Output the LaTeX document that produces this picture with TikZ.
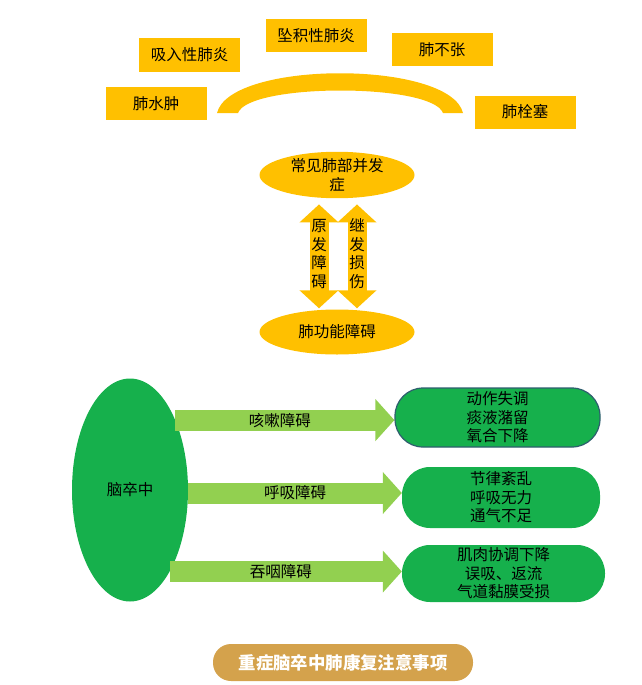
\documentclass[tikz,border=0pt]{standalone}
\usepackage{fontspec}
\setmainfont{Noto Sans CJK SC}
\usepackage{tikz}
\usetikzlibrary{arrows.meta,shapes,positioning,calc}

\definecolor{gold}{HTML}{FFC000}
\definecolor{leaf}{HTML}{16B04C}
\definecolor{lime}{HTML}{92D050}
\definecolor{tan}{HTML}{D4A24C}
\definecolor{slate}{HTML}{2E5E6E}

\begin{document}
\begin{tikzpicture}[x=1pt, y=-1pt,
    txt/.style={font=\fontsize{15.5}{18.5}\selectfont, text=black},
    goldbox/.style={txt, fill=gold, minimum width=101pt, minimum height=33pt, inner sep=0pt},
    goldoval/.style={txt, ellipse, fill=gold, minimum width=155pt, minimum height=45pt, inner sep=0pt, align=center},
    dblarrow/.style={draw=gold, line width=19pt,
        {Triangle[width=38pt,length=18pt]}-{Triangle[width=38pt,length=18pt]}},
    vtext/.style={txt, align=center},
    outcome/.style={txt, fill=leaf, rounded corners=28pt, align=center, inner sep=0pt},
    grnarrow/.style={draw=lime, line width=21pt, -{Triangle[width=41pt,length=19pt]}}]
    \useasboundingbox (0,0) rectangle (641,685);

    % Complications
    \node[goldbox] (aspir) at (189.5,55) {吸入性肺炎};
    \node[goldbox] (hypo) at (316,35.5) {坠积性肺炎};
    \node[goldbox] (atel) at (442,49.5) {肺不张};
    \node[goldbox] (edema) at (156,103.5) {肺水肿};
    \node[goldbox] (embol) at (525,112) {肺栓塞};
    \fill[gold] (217,113) .. controls (230,60) and (450,60) .. (463,113)
        -- (443,113) .. controls (432,83) and (249,83) .. (238,113) -- cycle;

    % Lung function
    \node[goldoval] (common) at (337,175) {常见肺部并发\\症};
    \node[goldoval] (lungfn) at (337,332) {肺功能障碍};
    \draw[dblarrow, shorten <=6pt, shorten >=1pt] ([xshift=-18pt]common.south) -- ([xshift=-18pt]lungfn.north)
        node[midway, vtext] {原\\发\\障\\碍};
    \draw[dblarrow, shorten <=6pt, shorten >=1pt] ([xshift=20pt]common.south) -- ([xshift=20pt]lungfn.north)
        node[midway, vtext] {继\\发\\损\\伤};

    % Stroke
    \node[txt, ellipse, fill=leaf, minimum width=116pt, minimum height=223pt] (brain) at (130,490) {脑卒中};
    \node[outcome, draw=slate, line width=1.2pt, minimum width=205pt, minimum height=59pt] (cough) at (497.5,417.5) {动作失调\\痰液潴留\\氧合下降};
    \node[outcome, minimum width=198pt, minimum height=61pt] (breath) at (501,497.5) {节律紊乱\\呼吸无力\\通气不足};
    \node[outcome, minimum width=203pt, minimum height=57pt] (swallow) at (503.5,573.5) {肌肉协调下降\\误吸、返流\\气道黏膜受损};
    \draw[grnarrow] (brain.57) -- (brain.57 -| cough.west) node[midway, txt, xshift=-5pt] {咳嗽障碍};
    \draw[grnarrow] ([yshift=-3pt]brain.east) -- ([yshift=-3pt]brain.east -| breath.west) node[midway, txt] {呼吸障碍};
    \draw[grnarrow] (brain.296) -- (brain.296 -| swallow.west) node[midway, txt, xshift=-5pt] {吞咽障碍};

    % Title
    \node[fill=tan, rounded corners=18pt, minimum width=260pt, minimum height=37pt, inner sep=0pt,
        text=white, font=\fontsize{17.4}{20}\selectfont\bfseries] (title) at (343,662.5) {重症脑卒中肺康复注意事项};
\end{tikzpicture}
\end{document}
